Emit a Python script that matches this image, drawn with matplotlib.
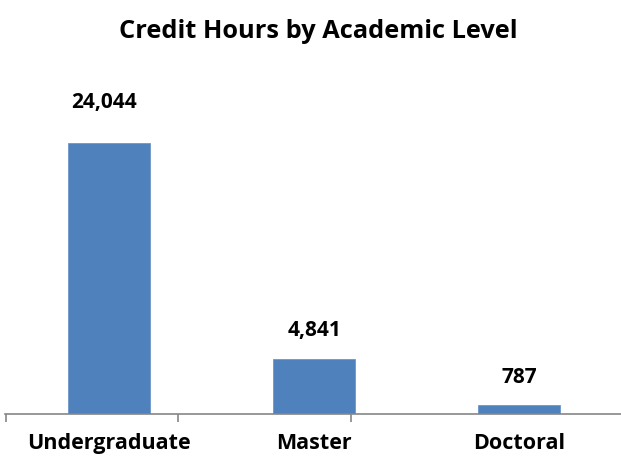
import matplotlib
matplotlib.use("Agg")
import matplotlib.pyplot as plt

categories = ["Undergraduate", "Master", "Doctoral"]
values = [24044, 4841, 787]
labels = ["24,044", "4,841", "787"]

FONT = "Open Sans"
W, H = 621, 463
fig = plt.figure(figsize=(W / 100, H / 100), dpi=100)
ax_left, ax_right = 5, 621
ax_top, ax_bottom = 60, 413.5
ax = fig.add_axes([ax_left / W, 1 - ax_bottom / H, (ax_right - ax_left) / W, (ax_bottom - ax_top) / H])

x = list(range(len(categories)))
ax.bar(x, values, width=0.4, color="#4F81BD", edgecolor="#6F96C8", linewidth=0.6)
ax.set_xlim(-0.506, 2.495)
ax.set_ylim(0, (ax_bottom - ax_top) / 0.01125)

label_offsets_px = [(-5, 40.5), (0, 28.5), (0, 27)]
for xi, v, lab, (dx, dy) in zip(x, values, labels, label_offsets_px):
    ax.annotate(lab, (xi, v), xytext=(dx * 0.72, dy * 0.72), textcoords="offset points",
                ha="center", va="center", fontsize=15, fontweight="bold",
                family=FONT, color="black")

for s in ["top", "right", "left"]:
    ax.spines[s].set_visible(False)
ax.spines["bottom"].set_color("#868686")
ax.spines["bottom"].set_linewidth(1.2)
ax.set_yticks([])

ax.set_xticks([-0.5, 0.336, 1.178], minor=True)
ax.tick_params(axis="x", which="minor", length=6, width=1.2, color="#868686", direction="out")
ax.set_xticks(x)
ax.set_xticklabels(categories, fontsize=15.5, fontweight="bold", family=FONT)
ax.tick_params(axis="x", which="major", length=0, pad=14)

fig.text(318 / W, 1 - 32 / H, "Credit Hours by Academic Level", ha="center", va="center",
         fontsize=18.3, fontweight="bold", family=FONT)

fig.savefig("out.png", dpi=100)
